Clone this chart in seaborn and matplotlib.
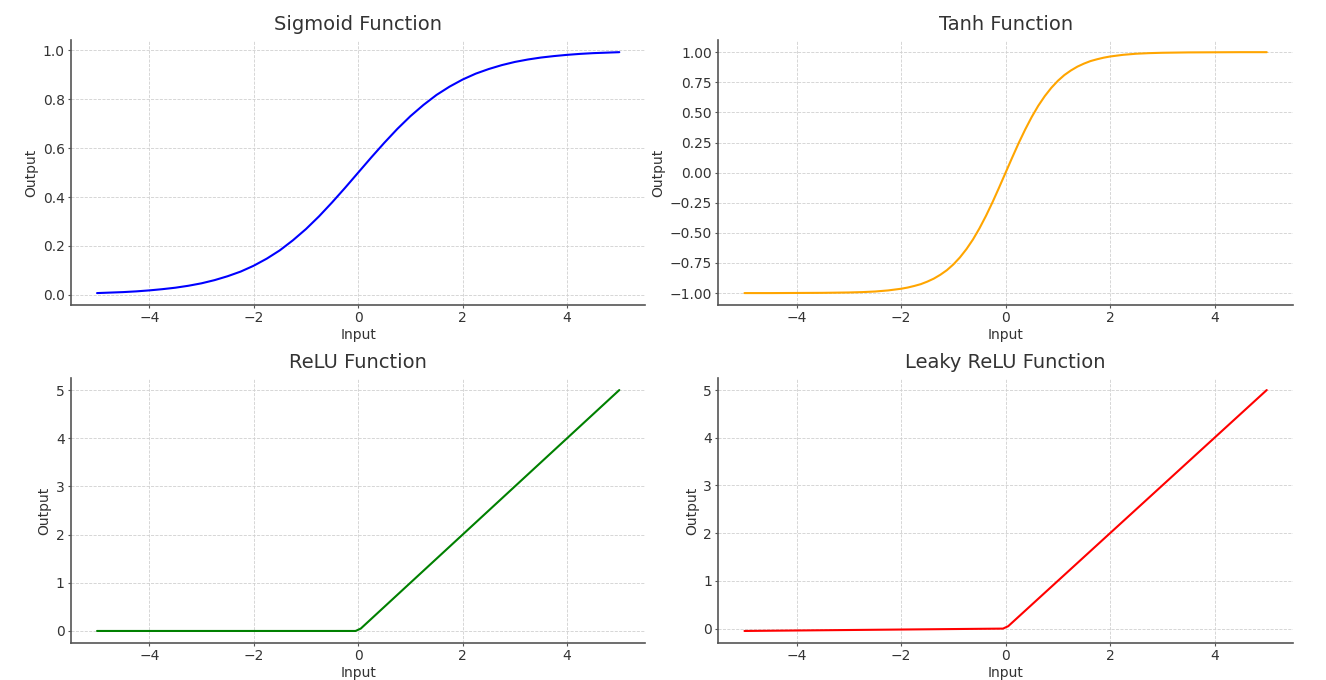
import numpy as np
import pandas as pd
import matplotlib
matplotlib.use("Agg")
import matplotlib.pyplot as plt
from matplotlib.ticker import MultipleLocator
import seaborn as sns

# valores
x_sigmoid = [-5.0, -4.75, -4.5, -4.25, -4.0, -3.75, -3.5, -3.25, -3.0, -2.75,
             -2.5, -2.25, -2.0, -1.75, -1.5, -1.25, -1.0, -0.75, -0.5, -0.25,
             0.0, 0.25, 0.5, 0.75, 1.0, 1.25, 1.5, 1.75, 2.0, 2.25,
             2.5, 2.75, 3.0, 3.25, 3.5, 3.75, 4.0, 4.25, 4.5, 4.75, 5.0]

sigmoid_y = [0.007, 0.009, 0.011, 0.014, 0.018, 0.023, 0.029, 0.037, 0.047, 0.060,
             0.076, 0.095, 0.119, 0.148, 0.182, 0.223, 0.269, 0.321, 0.378, 0.438,
             0.500, 0.562, 0.622, 0.679, 0.731, 0.777, 0.818, 0.852, 0.881, 0.905,
             0.924, 0.940, 0.953, 0.963, 0.971, 0.977, 0.982, 0.986, 0.989, 0.991, 0.993]

x_tanh = [-5.0, -4.5, -4.0, -3.5, -3.0, -2.75, -2.5, -2.25,
          -2.0, -1.875, -1.75, -1.625, -1.5, -1.375, -1.25, -1.125,
          -1.0, -0.875, -0.75, -0.625, -0.5, -0.375, -0.25, -0.125,
          0.0, 0.125, 0.25, 0.375, 0.5, 0.625, 0.75, 0.875,
          1.0, 1.125, 1.25, 1.375, 1.5, 1.625, 1.75, 1.875,
          2.0, 2.25, 2.5, 2.75, 3.0, 3.5, 4.0, 4.5, 5.0]

tanh_y = [-1.000, -1.000, -0.999, -0.998, -0.995, -0.992, -0.987, -0.978,
          -0.964, -0.954, -0.941, -0.926, -0.905, -0.880, -0.848, -0.810,
          -0.762, -0.704, -0.635, -0.555, -0.462, -0.358, -0.245, -0.124,
          0.000, 0.124, 0.245, 0.358, 0.462, 0.555, 0.635, 0.704,
          0.762, 0.810, 0.848, 0.880, 0.905, 0.926, 0.941, 0.954,
          0.964, 0.978, 0.987, 0.992, 0.995, 0.998, 0.999, 1.000, 1.000]

x_relu = [-5.0, -0.05, 0.05, 5.0]
relu_y = [0.0, 0.0, 0.05, 5.0]
leaky_y = [-0.05, -0.0005, 0.05, 5.0]

panels = [
    ("Sigmoid Function", x_sigmoid, sigmoid_y, "blue"),
    ("Tanh Function", x_tanh, tanh_y, "orange"),
    ("ReLU Function", x_relu, relu_y, "green"),
    ("Leaky ReLU Function", x_relu, leaky_y, "red"),
]

sns.set_style("ticks", {
    "axes.edgecolor": "#555555",
    "axes.grid": True,
    "grid.color": "#d0d0d0",
    "grid.linestyle": "--",
    "xtick.color": "#555555",
    "ytick.color": "#555555",
    "text.color": "#333333",
    "axes.labelcolor": "#333333",
})
plt.rcParams["font.family"] = ["DejaVu Sans"]
plt.rcParams["grid.linewidth"] = 0.6
plt.rcParams["axes.linewidth"] = 1.2

fig, axes = plt.subplots(2, 2, figsize=(13.26, 6.8), dpi=100)
fig.subplots_adjust(left=0.0535, right=0.975, top=0.941, bottom=0.0544,
                    wspace=0.127, hspace=0.275)

for ax, (title, xs, ys, color) in zip(axes.flat, panels):
    df = pd.DataFrame({"Input": xs, "Output": ys})
    sns.lineplot(data=df, x="Input", y="Output", ax=ax, color=color, linewidth=1.5)
    ax.set_title(title, fontsize=14, color="#333333", pad=7)
    ax.set_xlabel("Input", fontsize=10, labelpad=2)
    ax.set_ylabel("Output", fontsize=10, labelpad=3)
    ax.tick_params(labelsize=10, labelcolor="#333333", length=2.5, pad=2)
    ax.set_xticks([-4, -2, 0, 2, 4])
    sns.despine(ax=ax)

axes[0, 1].yaxis.set_major_locator(MultipleLocator(0.25))

fig.savefig("out.png", dpi=100)
